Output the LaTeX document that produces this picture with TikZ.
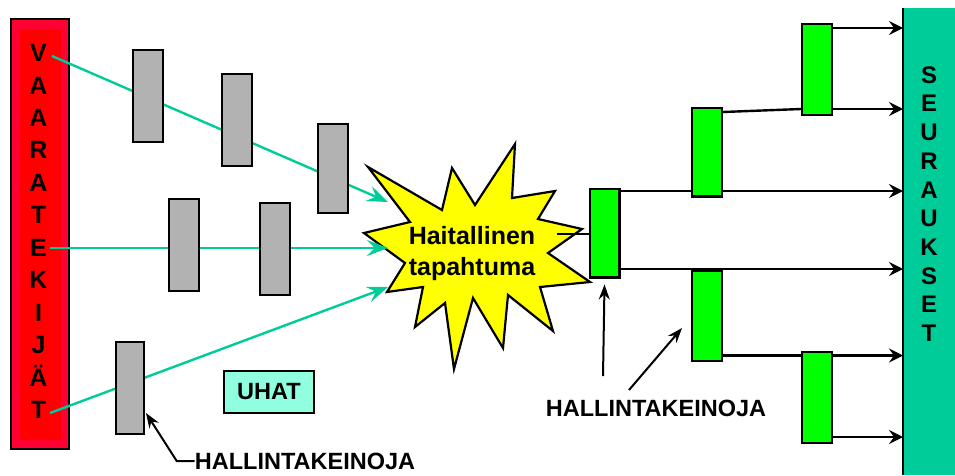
\documentclass[tikz,border=0pt]{standalone}
\usepackage{fontspec}
\setmainfont{Liberation Sans}
\usetikzlibrary{arrows.meta}
\definecolor{barred}{HTML}{FF0033}
\definecolor{corered}{HTML}{FF0000}
\definecolor{ctrlgray}{HTML}{B2B2B2}
\definecolor{ctrlgreen}{HTML}{00FF00}
\definecolor{conseq}{HTML}{00CC99}
\definecolor{threatbox}{HTML}{90FFE0}
\definecolor{blast}{HTML}{FFFF00}
\pgfdeclarelayer{bars}
\pgfdeclarelayer{wires}
\pgfsetlayers{bars,wires,main}
\tikzset{
  ctrl/.style={draw=black, line width=2.4pt, fill=ctrlgray, inner sep=0pt,
    minimum width=29.6pt, minimum height=91.6pt},
  mitig/.style={draw=black, line width=2.4pt, fill=ctrlgreen, inner sep=0pt,
    minimum width=29.6pt, minimum height=88.6pt},
  threat/.style={conseq, line width=2.4pt, -{Stealth[length=21pt,width=16pt,inset=8pt]}},
  outcome/.style={black, line width=2.4pt, -{Stealth[length=14pt,width=14pt,inset=5pt]}},
  link/.style={black, line width=2.4pt},
  pointer/.style={black, line width=2pt, -{Stealth[length=15pt,width=11pt,inset=5pt]}},
  bigtxt/.style={font=\bfseries\fontsize{23.5}{28}\selectfont, inner sep=0pt},
}
\begin{document}
\begin{tikzpicture}[x=1pt,y=-1pt]
\useasboundingbox (0,0) rectangle (955,475);

% side bars and the central event
\begin{pgfonlayer}{bars}
  \node[draw, line width=2.4pt, fill=barred, inner sep=0pt,
        minimum width=57.6pt, minimum height=429.6pt] (vaar) at (40,234) {};
  \node[fill=corered, inner sep=0pt, minimum width=41pt, minimum height=410pt]
        (vaarcore) at (40.5,235) {};
  \node[align=center, inner sep=0pt, font=\bfseries\fontsize{25}{32.45}\selectfont]
        (vaartxt) at (38.5,231.5) {V\\A\\A\\R\\A\\T\\E\\K\\I\\J\\Ä\\T};

  \node[fill=conseq, inner sep=0pt, anchor=north west,
        minimum width=52pt, minimum height=467pt] (seur) at (903,8) {};
  \draw[line width=2.4pt] (seur.north west) -- (seur.south west);
  \node[align=center, inner sep=0pt, font=\bfseries\fontsize{24}{28.7}\selectfont]
        (seurtxt) at (929,204) {S\\E\\U\\R\\A\\U\\K\\S\\E\\T};

  \draw[fill=blast, line width=2.2pt, line join=miter]
    (368,167) -- (442,210) -- (452,168) -- (475,205) -- (515,144) -- (512,198)
    -- (555,191) -- (538,219) -- (582,229) -- (548,253) -- (590,282) -- (540,287)
    -- (553,331) -- (508,295) -- (503,348) -- (473,298) -- (454,369) -- (445,303)
    -- (415,327) -- (423,287) -- (387,292) -- (405,263) -- (364,233) -- (410,222)
    -- cycle;
  \node[align=center, inner sep=0pt, font=\bfseries\fontsize{25}{31}\selectfont]
        (event) at (472,254) {Haitallinen\\tapahtuma};
\end{pgfonlayer}

% barriers before the event
\node[ctrl] (g1) at (148,96) {};
\node[ctrl] (g2) at (237,120) {};
\node[ctrl, minimum height=88.6pt] (g3) at (333,168.5) {};
\node[ctrl] (g4) at (184,245) {};
\node[ctrl] (g5) at (275,249) {};
\node[ctrl, minimum width=27.6pt] (g6) at (130,388) {};

% barriers after the event
\node[mitig] (mA) at (604.5,233) {};
\node[mitig] (mB) at (707,152) {};
\node[mitig, minimum height=90.6pt] (mC) at (817,69.5) {};
\node[mitig, minimum height=89.6pt] (mD) at (707,316) {};
\node[mitig, minimum height=90.6pt] (mE) at (817,397.5) {};

% labels
\node[draw, line width=2.4pt, fill=threatbox, bigtxt, inner sep=0pt,
      minimum width=89.6pt, minimum height=41.6pt] (uhat) at (269,392) {UHAT};
\node[bigtxt] (lab1) at (305,461) {HALLINTAKEINOJA};
\node[bigtxt] (lab2) at (656,408) {HALLINTAKEINOJA};

% threat paths
\coordinate (s1) at (52,56);
\coordinate (s2) at (50,248);
\coordinate (s3) at (50,413);
\coordinate (t1) at (388,202);
\coordinate (t2) at (388,248);
\coordinate (t3) at (388,287);

% consequence rows
\coordinate (hit) at (557,234);
\coordinate (r1) at (0,28);
\coordinate (r2a) at (0,112);
\coordinate (r2) at (0,109);
\coordinate (r3) at (0,191);
\coordinate (r4) at (0,269);
\coordinate (r5) at (0,355.5);
\coordinate (r6) at (0,437);

\begin{pgfonlayer}{wires}
  \draw[threat] (s1) -- (t1);
  \draw[threat] (s2) -- (t2);
  \draw[threat] (s3) -- (t3);

  \draw[link] (hit) -- (hit -| mA.west);
  \draw[outcome] (mA.east |- r3) -- (seur.west |- r3);
  \draw[link] (mB.east |- r2a) -- (mC.west |- r2);
  \draw[outcome] (mC.east |- r2) -- (seur.west |- r2);
  \draw[outcome] (mC.east |- r1) -- (seur.west |- r1);
  \draw[outcome] (mA.east |- r4) -- (seur.west |- r4);
  \draw[link] (mD.east |- r5) -- (mE.west |- r5);
  \draw[outcome] (mE.east |- r5) -- (seur.west |- r5);
  \draw[outcome] (mE.east |- r6) -- (seur.west |- r6);
\end{pgfonlayer}

% pointers from the labels
\coordinate (p1) at (603,376);
\coordinate (p2) at (629,390);
\coordinate (q2) at (682,328);
\coordinate (q6) at (146,413);
\draw[pointer] (lab1.west) -- ++(-18,0) -- (q6);
\draw[pointer] (p1) -- ([yshift=-6pt]mA.south);
\draw[pointer] (p2) -- (q2);
\end{tikzpicture}
\end{document}
